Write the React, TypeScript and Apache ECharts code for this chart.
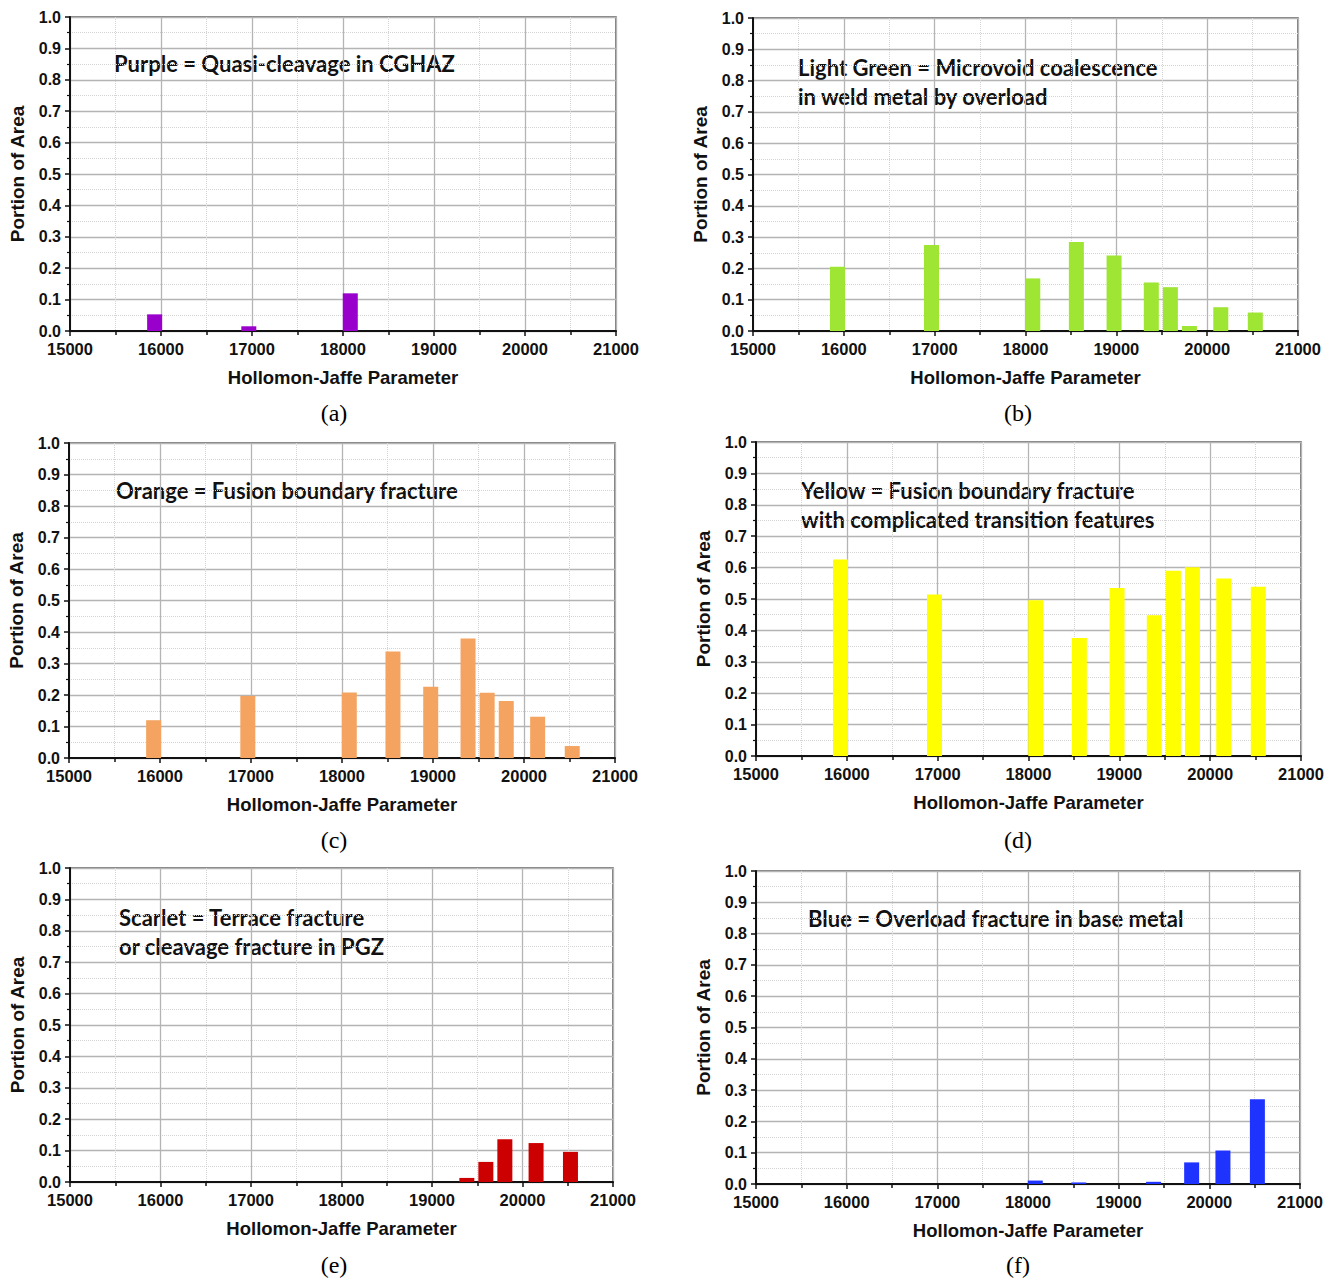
import React, { useEffect, useRef } from "react";
import * as echarts from "echarts";

// Hollomon-Jaffe parameter of each specimen (bar centres)
const hjp = [15930, 16965, 18080, 18560, 18975, 19385, 19595, 19805, 20150, 20530];

// Portion of area for each fracture type (null = none)
const purple = [0.053, 0.015, 0.12, null, null, null, null, null, null, null];
const lightGreen = [0.205, 0.275, 0.168, 0.284, 0.241, 0.155, 0.14, 0.016, 0.076, 0.059];
const orange = [0.12, 0.197, 0.208, 0.338, 0.226, 0.379, 0.207, 0.181, 0.131, 0.038];
const yellow = [0.626, 0.514, 0.496, 0.376, 0.535, 0.448, 0.59, 0.601, 0.565, 0.539];
const scarlet = [null, null, null, null, null, 0.013, 0.064, 0.136, 0.124, 0.096];
const blue = [null, null, 0.011, 0.005, null, 0.007, null, 0.069, 0.107, 0.271];

const xTickMin = 15000;
const xTickMax = 21000;
const xTickStep = 1000;
const yTickMin = 0;
const yTickMax = 1;
const yTickStep = 0.1;

const xAxisTitle = "Hollomon-Jaffe Parameter";
const yAxisTitle = "Portion of Area";

const panelLetters = ["(a)", "(b)", "(c)", "(d)", "(e)", "(f)"];
const panelNotes = [
  ["Purple = Quasi-cleavage in CGHAZ"],
  ["Light Green = Microvoid coalescence", "in weld metal by overload"],
  ["Orange = Fusion boundary fracture"],
  ["Yellow = Fusion boundary fracture", "with complicated transition features"],
  ["Scarlet = Terrace fracture", "or cleavage fracture in PGZ"],
  ["Blue = Overload fracture in base metal"],
];
const panelSeries = [purple, lightGreen, orange, yellow, scarlet, blue];
const panelColors = ["#9900cc", "#9fe533", "#f4a460", "#ffff00", "#cc0000", "#1f33ff"];

// layout (pixels)
const grids = [
  { left: 70, top: 17, width: 546, height: 314 },
  { left: 753, top: 18, width: 545, height: 313 },
  { left: 69, top: 443, width: 546, height: 315 },
  { left: 756, top: 442, width: 545, height: 314 },
  { left: 70, top: 868, width: 543, height: 314 },
  { left: 756, top: 871, width: 544, height: 313 },
];
const notePos = [
  { x: 114, y: 63 },
  { x: 798, y: 67 },
  { x: 116, y: 490 },
  { x: 801, y: 490 },
  { x: 119, y: 917 },
  { x: 808, y: 918 },
];
const letterPos = [
  { x: 334, y: 413 },
  { x: 1018, y: 413 },
  { x: 334, y: 840 },
  { x: 1018, y: 840 },
  { x: 334, y: 1265 },
  { x: 1018, y: 1265 },
];

export default function App() {
  const ref = useRef<HTMLDivElement>(null);
  useEffect(() => {
    if (!ref.current) return;
    const chart = echarts.init(ref.current, null, { renderer: "svg" });
    const axisFont = {
      fontFamily: "'Liberation Sans', Arial, sans-serif",
      fontWeight: "bold" as const,
      color: "#111",
    };

    const xAxes = grids.map((_, i) => ({
      type: "value",
      gridIndex: i,
      min: xTickMin,
      max: xTickMax,
      interval: xTickStep,
      name: xAxisTitle,
      nameLocation: "middle",
      nameGap: 37,
      nameTextStyle: { ...axisFont, fontSize: 18.5 },
      axisLine: { show: true, onZero: false, lineStyle: { color: "#111", width: 2 } },
      axisTick: { show: true, inside: false, length: 5, lineStyle: { color: "#111", width: 1.5 } },
      minorTick: { show: true, splitNumber: 2, length: 4, lineStyle: { color: "#111", width: 1.5 } },
      axisLabel: { ...axisFont, fontSize: 16.5, margin: 9, formatter: (v: number) => String(v) },
      splitLine: { show: true, lineStyle: { color: "#b4b4b4", width: 1.3 } },
      minorSplitLine: { show: true, lineStyle: { color: "#d4d4d4", width: 1, type: "dotted" } },
    }));
    const yAxes = grids.map((_, i) => ({
      type: "value",
      gridIndex: i,
      min: yTickMin,
      max: yTickMax,
      interval: yTickStep,
      name: yAxisTitle,
      nameLocation: "middle",
      nameGap: 43,
      nameTextStyle: { ...axisFont, fontSize: 19 },
      axisLine: { show: true, lineStyle: { color: "#111", width: 2 } },
      axisTick: { show: true, inside: false, length: 5, lineStyle: { color: "#111", width: 1.5 } },
      minorTick: { show: true, splitNumber: 2, length: 3, lineStyle: { color: "#111", width: 1.2 } },
      axisLabel: { ...axisFont, fontSize: 16, margin: 9, formatter: (v: number) => v.toFixed(1) },
      splitLine: { show: true, lineStyle: { color: "#b4b4b4", width: 1.3 } },
      minorSplitLine: { show: true, lineStyle: { color: "#d4d4d4", width: 1, type: "dotted" } },
    }));

    const series = panelSeries.map((vals, i) => ({
      type: "bar",
      xAxisIndex: i,
      yAxisIndex: i,
      barWidth: 15,
      itemStyle: { color: panelColors[i] },
      data: hjp.map((x, k) => [x, vals[k]]).filter((d) => d[1] !== null),
    }));

    const graphics: any[] = [];
    panelNotes.forEach((lines, i) => {
      lines.forEach((t, j) => {
        graphics.push({
          type: "text",
          x: notePos[i].x,
          y: notePos[i].y + j * 29,
          style: {
            text: t,
            fontFamily: "Lato, 'Open Sans', sans-serif",
            fontWeight: "bold",
            fontSize: 22,
            fill: "#111",
            verticalAlign: "middle",
            align: "left",
          },
        });
      });
    });
    panelLetters.forEach((t, i) => {
      graphics.push({
        type: "text",
        x: letterPos[i].x,
        y: letterPos[i].y,
        style: {
          text: t,
          fontFamily: "'Liberation Serif', serif",
          fontSize: 24,
          fill: "#000",
          align: "center",
          verticalAlign: "middle",
        },
      });
    });

    chart.setOption({
      animation: false,
      backgroundColor: "#fff",
      grid: grids.map((g) => ({ ...g, show: true, borderColor: "#555", borderWidth: 1.5, backgroundColor: "transparent" })),
      xAxis: xAxes,
      yAxis: yAxes,
      series,
      graphic: graphics,
    });
    return () => chart.dispose();
  }, []);
  return (
    <div
      ref={ref}
      style={{ position: "absolute", left: 0, top: 0, width: 1336, height: 1280 }}
    />
  );
}
